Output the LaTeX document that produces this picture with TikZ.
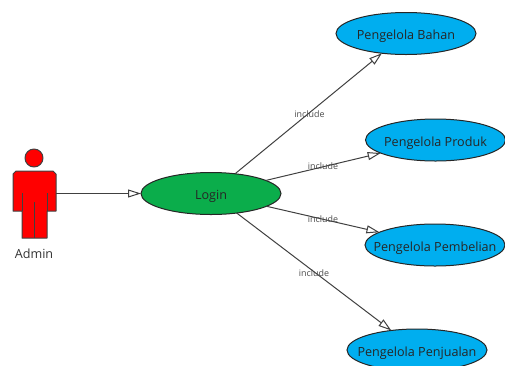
\documentclass[tikz,border=0pt]{standalone}
\usepackage{fontspec}
\setmainfont{Open Sans}
\usetikzlibrary{shapes.geometric,arrows.meta}
\definecolor{ucblue}{HTML}{00AEEF}
\definecolor{ucgreen}{HTML}{0BAD4B}
\definecolor{edgegray}{HTML}{404040}
\tikzset{
  usecase/.style={ellipse,draw=black!85,line width=1pt,fill=ucblue,minimum width=140pt,minimum height=42pt,inner xsep=-20pt,inner ysep=-6pt,outer sep=0pt,font=\fontsize{12.6pt}{14pt}\selectfont,text=black!85,text height=12pt,text depth=0pt},
  logincase/.style={usecase,fill=ucgreen},
  link/.style={draw=edgegray,line width=1pt,-{Triangle[open,fill=white,length=13pt,width=8pt]}},
  inclabel/.style={font=\fontsize{8.9pt}{10pt}\selectfont,text=black!70,inner sep=0pt},
  actorpart/.style={draw=black!75,line width=1pt,fill=red,line join=round},
  actorline/.style={draw=black!75,line width=1pt},
}
\begin{document}
\begin{tikzpicture}[x=1pt,y=-1pt]
\useasboundingbox (0,0) rectangle (505,365);
\begin{scope}
\clip (0,0) rectangle (505,365);
\node[usecase] (bahan) at (406,33.5) {Pengelola Bahan};
\node[usecase] (produk) at (435.5,140) {Pengelola Produk};
\node[usecase] (pembelian) at (435,245) {Pengelola Pembelian};
\node[usecase] (penjualan) at (417,350) {Pengelola Penjualan};
\node[logincase] (login) at (211,193.5) {Login};
% actor
\node[circle,actorpart,minimum size=18pt,inner sep=0pt] (head) at (34,158) {};
\draw[actorpart] (16,171) -- (53,171) -- (56,174) -- (56,211) -- (47,211) -- (47,238) -- (22,238) -- (22,211) -- (13,211) -- (13,174) -- cycle;
\draw[actorline] (22,193) -- (22,211);
\draw[actorline] (47,193) -- (47,211);
\draw[actorline] (34,202) -- (34,238);
\node[inner sep=0pt,minimum width=43pt,minimum height=67pt] (admin) at (34.5,204.5) {};
\coordinate (adminport) at (56,193.5);
\node[font=\fontsize{12.6pt}{14pt}\selectfont,text=black!80,inner sep=0pt] (adminlabel) at (34,254) {Admin};
\path[link] (adminport) -- (login);
\path[link] (login) -- (bahan);
\path[link] (login) -- (produk);
\path[link] (login) -- (pembelian);
\path[link] (login) -- (penjualan);
\node[inclabel] (i1) at (309.5,114) {include};
\node[inclabel] (i2) at (323,166) {include};
\node[inclabel] (i3) at (323,219) {include};
\node[inclabel] (i4) at (314,273) {include};
\end{scope}
\end{tikzpicture}
\end{document}
